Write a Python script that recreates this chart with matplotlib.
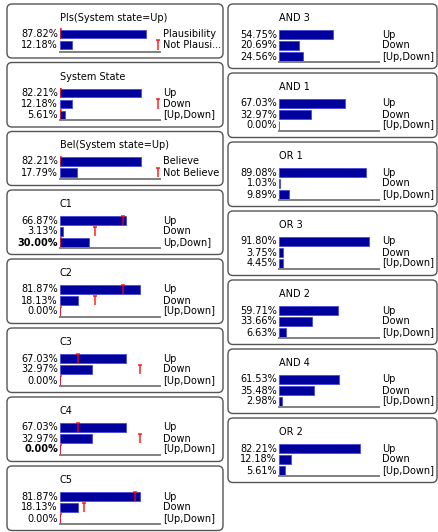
import matplotlib.pyplot as plt
from matplotlib.patches import FancyBboxPatch

plt.rcParams['font.family'] = ['DejaVu Sans']
plt.rcParams['font.size'] = 7

W, H = 439, 532

# left column nodes
left_titles = ["Pls(System state=Up)", "System State", "Bel(System state=Up)",
               "C1", "C2", "C3", "C4", "C5"]
left_states = [
    ["Plausibility", "Not Plausi..."],
    ["Up", "Down", "[Up,Down]"],
    ["Believe", "Not Believe"],
    ["Up", "Down", "Up,Down]"],
    ["Up", "Down", "[Up,Down]"],
    ["Up", "Down", "[Up,Down]"],
    ["Up", "Down", "[Up,Down]"],
    ["Up", "Down", "[Up,Down]"],
]
left_values = [
    [87.82, 12.18],
    [82.21, 12.18, 5.61],
    [82.21, 17.79],
    [66.87, 3.13, 30.00],
    [81.87, 18.13, 0.00],
    [67.03, 32.97, 0.00],
    [67.03, 32.97, 0.00],
    [81.87, 18.13, 0.00],
]
# red "previous value" markers
left_markers = [
    [0, 100],
    [0, 100, 0],
    [0, 100],
    [64, 36, 0],
    [64, 36, 0],
    [18, 82, 0],
    [18, 82, 0],
    [76, 24, 0],
]
left_bold = [None, None, None, 2, None, None, 2, None]

# right column nodes
right_titles = ["AND 3", "AND 1", "OR 1", "OR 3", "AND 2", "AND 4", "OR 2"]
right_states = ["Up", "Down", "[Up,Down]"]
right_values = [
    [54.75, 20.69, 24.56],
    [67.03, 32.97, 0.00],
    [89.08, 1.03, 9.89],
    [91.80, 3.75, 4.45],
    [59.71, 33.66, 6.63],
    [61.53, 35.48, 2.98],
    [82.21, 12.18, 5.61],
]

BAR = '#00009c'
BAR_EDGE = '#4a4ad8'


def draw_node(fig, bg, left, top, width, bar_off, title, states, values,
              markers=None, bold_row=None):
    n = len(values)
    height = 54 if n == 2 else 64.5
    bg.add_patch(FancyBboxPatch((left, top), width, height,
                                boxstyle="round,pad=0,rounding_size=5",
                                fc='white', ec='#555555', lw=1.0))
    x0 = left + bar_off
    bg.text(x0, top + 14, title, ha='left', va='center')

    row0 = top + (30 if n == 2 else 30.5)
    base = row0 + 11 * (n - 1) + (6.5 if n == 2 else 5)
    ax_top = row0 - 5.5
    ax = fig.add_axes([x0 / W, 1 - base / H, 100 / W, (base - ax_top) / H])
    ax.set_facecolor('none')
    ax.set_xlim(0, 102)
    ax.set_ylim((base - ax_top) / 11 - 0.5, -0.5)
    rows = list(range(n))
    ax.barh(rows, values, height=0.8, color=BAR, edgecolor=BAR_EDGE, linewidth=0.6)
    for s in ['top', 'right', 'left']:
        ax.spines[s].set_visible(False)
    ax.spines['bottom'].set_color('#808080')
    ax.spines['bottom'].set_linewidth(1.4)
    ax.set_xticks([])
    ax.set_yticks([])

    if markers is not None:
        ax.vlines(markers, [r - 0.45 for r in rows], [r + 0.42 for r in rows],
                  colors='red', linewidth=1.2, alpha=0.8)
        ax.plot(markers, [r - 0.45 for r in rows], linestyle='none', marker='_',
                ms=3.5, mew=1.2, color='red', alpha=0.8)

    for r, (st, v) in enumerate(zip(states, values)):
        ax.annotate(f"{v:.2f}%", xy=(0, r), xycoords=('axes fraction', 'data'),
                    xytext=(-2, 0), textcoords='offset pixels', ha='right',
                    va='center', annotation_clip=False,
                    fontweight='bold' if bold_row == r else 'normal')
        ax.annotate(st, xy=(1, r), xycoords=('axes fraction', 'data'),
                    xytext=(3, 0), textcoords='offset pixels', ha='left',
                    va='center', annotation_clip=False)


fig = plt.figure(figsize=(W / 100, H / 100), dpi=100)
bg = fig.add_axes([0, 0, 1, 1])
bg.set_xlim(0, W)
bg.set_ylim(H, 0)
bg.axis('off')

top = 4
for i, title in enumerate(left_titles):
    draw_node(fig, bg, 7, top, 216, 53, title, left_states[i], left_values[i],
              left_markers[i], left_bold[i])
    top += (54 if len(left_values[i]) == 2 else 64.5) + 4.5

top = 4
for i, title in enumerate(right_titles):
    draw_node(fig, bg, 228, top, 209, 51, title, right_states, right_values[i])
    top += 69

fig.savefig('out.png', dpi=100)
